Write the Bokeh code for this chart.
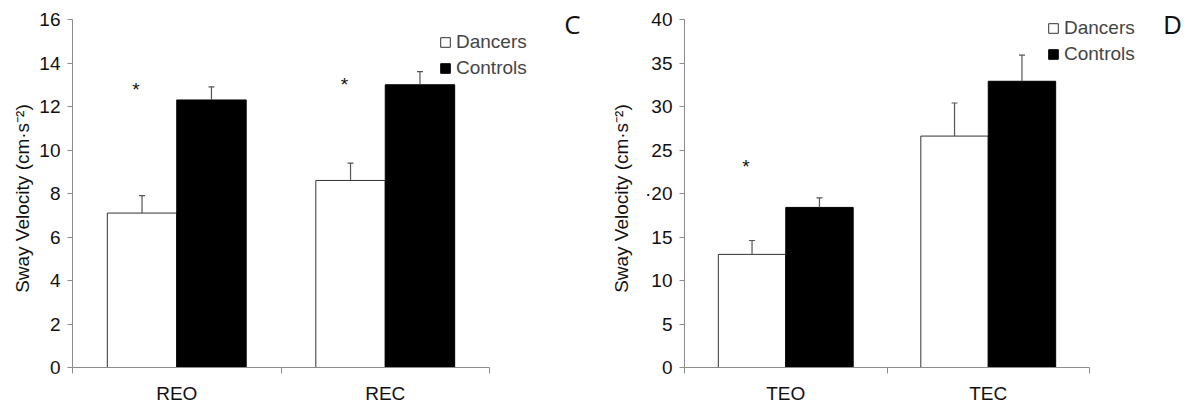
from bokeh.plotting import figure
from bokeh.layouts import row
from bokeh.models import Range1d, FixedTicker, Label, Legend, LegendItem
from bokeh.core.properties import value
from bokeh.embed import file_html
from bokeh.resources import INLINE

# ---------------- data ----------------
series_names = ["Dancers", "Controls"]

left_categories = ["REO", "REC"]
left_dancers = [7.1, 8.6]
left_dancers_err = [0.8, 0.8]
left_controls = [12.3, 13.0]
left_controls_err = [0.6, 0.6]
left_sig_index = [0, 1]
left_sig_y = [12.8, 13.0]
left_yticks = [0, 2, 4, 6, 8, 10, 12, 14, 16]
left_ytick_labels = {}

right_categories = ["TEO", "TEC"]
right_dancers = [13.0, 26.6]
right_dancers_err = [1.6, 3.8]
right_controls = [18.4, 32.9]
right_controls_err = [1.1, 3.0]
right_sig_index = [0]
right_sig_y = [23.1]
right_yticks = [0, 5, 10, 15, 20, 25, 30, 35, 40]
right_ytick_labels = {20: "\u00b720"}

y_title = "Sway Velocity (cm\u00b7s\u207b\u00b2)"

FONT = "Liberation Sans"
AXIS_COL = "#8c8c8c"
ERR_COL = "#555555"

FIG_H = 410
FRAME_TOP = 8          # page px of frame top
AXIS_TOP = 19          # page px of top tick
AXIS_BOTTOM = 367      # page px of zero line


def panel(cats, dan, dan_err, con, con_err, sig_idx, sig_y, yticks, ylabels,
          width, b_left, axis_px, frame_px, lbl_standoff, legend_loc, letter,
          letter_font, letter_size, letter_xy):
    ymax = yticks[-1]
    ncat = len(cats)
    px_per_unit_y = (AXIS_BOTTOM - AXIS_TOP) / ymax
    y_end = ymax + (AXIS_TOP - FRAME_TOP) / px_per_unit_y
    x_end = ncat * frame_px / axis_px
    frame_h = AXIS_BOTTOM - FRAME_TOP
    p = figure(width=width, height=FIG_H, output_backend="svg",
               toolbar_location=None, x_range=Range1d(0, x_end),
               y_range=Range1d(0, y_end), min_border_left=b_left,
               min_border_right=width - b_left - frame_px,
               min_border_top=FRAME_TOP,
               min_border_bottom=FIG_H - FRAME_TOP - frame_h)
    p.outline_line_color = None
    p.xgrid.visible = False
    p.ygrid.visible = False
    p.background_fill_color = "white"
    p.border_fill_color = "white"

    centers = [i + 0.5 for i in range(ncat)]
    bw = 0.333
    xd = [c - bw / 2 for c in centers]
    xc = [c + bw / 2 for c in centers]

    rd = p.vbar(x=xd, top=dan, width=bw, bottom=0, fill_color="white",
                line_color="#333333", line_width=1)
    rc = p.vbar(x=xc, top=con, width=bw, bottom=0, fill_color="black",
                line_color="black", line_width=1)

    for xs, vals, errs in ((xd, dan, dan_err), (xc, con, con_err)):
        tops = [v + e for v, e in zip(vals, errs)]
        p.segment(x0=xs, y0=vals, x1=xs, y1=tops, line_color=ERR_COL,
                  line_width=1.2)
        p.scatter(x=xs, y=tops, marker="dash", size=6, line_color=ERR_COL,
                  line_width=1.2)

    p.text(x=[xd[i] for i in sig_idx], y=sig_y, text=["*"] * len(sig_idx),
           text_font=value(FONT), text_font_size="19px", text_align="center",
           text_baseline="alphabetic", x_offset=-6, y_offset=0,
           text_color="#111111")

    # axes
    xa = p.xaxis[0]
    xa.bounds = (0, ncat)
    xa.ticker = FixedTicker(ticks=centers, minor_ticks=list(range(ncat + 1)))
    xa.major_label_overrides = {c: n for c, n in zip(centers, cats)}
    xa.major_tick_out = 0
    xa.major_tick_in = 0
    xa.minor_tick_out = 6
    xa.minor_tick_in = 0
    xa.minor_tick_line_color = AXIS_COL
    xa.axis_line_color = AXIS_COL
    xa.major_label_standoff = 9
    xa.major_label_text_font = FONT
    xa.major_label_text_font_size = "19px"
    xa.major_label_text_color = "#111111"

    ya = p.yaxis[0]
    ya.bounds = (0, ymax)
    ya.ticker = FixedTicker(ticks=yticks, minor_ticks=[])
    ya.major_label_overrides = ylabels
    ya.major_tick_out = 5
    ya.major_tick_in = 0
    ya.major_tick_line_color = AXIS_COL
    ya.axis_line_color = AXIS_COL
    ya.major_label_standoff = 7
    ya.major_label_text_font = FONT
    ya.major_label_text_font_size = "19px"
    ya.major_label_text_color = "#111111"
    # trailing no-break spaces centre the title on the 0..max span
    ya.axis_label = y_title + "\u00a0" * 4
    ya.axis_label_text_font = FONT
    ya.axis_label_text_font_size = "19px"
    ya.axis_label_text_font_style = "normal"
    ya.axis_label_text_color = "#111111"
    ya.axis_label_standoff = lbl_standoff

    legend = Legend(items=[LegendItem(label=series_names[0], renderers=[rd]),
                           LegendItem(label=series_names[1], renderers=[rc])],
                    location=legend_loc, label_text_font=FONT,
                    label_text_font_size="19px", glyph_width=12,
                    glyph_height=12, label_standoff=5, spacing=4, padding=0,
                    margin=0, border_line_color=None,
                    background_fill_alpha=0, label_height=20)
    p.add_layout(legend)

    p.add_layout(Label(x=letter_xy[0], y=letter_xy[1], text=letter,
                       text_font=letter_font, text_font_size=letter_size,
                       text_align="center", text_baseline="middle",
                       text_color="#111111"))
    return p


p1 = panel(left_categories, left_dancers, left_dancers_err, left_controls,
           left_controls_err, left_sig_index, left_sig_y, left_yticks,
           left_ytick_labels, 595, 72, 417, 518, 3, (367, 288), "C",
           "Open Sans", "26px", (2.398, 15.8))
p2 = panel(right_categories, right_dancers, right_dancers_err, right_controls,
           right_controls_err, right_sig_index, right_sig_y, right_yticks,
           right_ytick_labels, 596, 89, 405, 505, 10, (363, 302), "D", FONT,
           "25px", (2.41, 39.4))

layout = row(p1, p2)
open("out.html", "w").write(file_html(layout, INLINE))
